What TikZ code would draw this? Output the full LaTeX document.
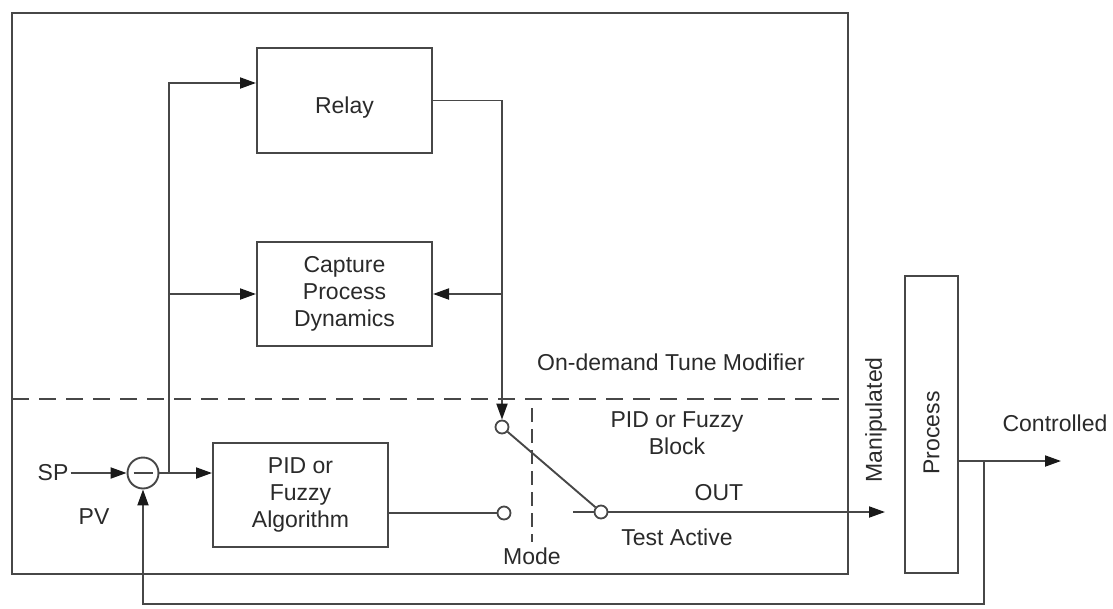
\documentclass[tikz,border=0pt]{standalone}
\usepackage{fontspec}
\setmainfont{Liberation Sans}
\usetikzlibrary{arrows.meta,calc}

\definecolor{lc}{HTML}{474747}
\definecolor{tc}{HTML}{2A2A2A}

\tikzset{
  txt/.style={text=tc, font=\fontsize{23}{27}\selectfont, align=center, inner sep=2pt},
  blk/.style={draw=lc, line width=2pt, inner sep=0pt, fill=white},
  ln/.style={draw=lc, line width=1.9pt},
  arr/.style={ln, -{Triangle[length=16pt,width=11pt,color=black!90]}},
  contact/.style={circle, draw=lc, line width=1.8pt, minimum size=13pt, inner sep=0pt, fill=white},
  frame/.style={draw=lc, line width=2.6pt},
  sep/.style={draw=lc, line width=1.8pt, dash pattern=on 17pt off 10pt},
  modeline/.style={draw=lc, line width=1.6pt, dash pattern=on 14pt off 7pt}
}

\begin{document}
\begin{tikzpicture}[x=1pt,y=-1pt]
\useasboundingbox (0,0) rectangle (1113,608);

% outer frame of the function block
\draw[frame] (12,13) rectangle (848,574);
% border between tune modifier and controller block
\draw[sep] (12,399) -- (848,399);
\node[txt] (odtm) at (671,362) {On-demand Tune Modifier};

% blocks
\node[blk, minimum width=175pt, minimum height=105pt] (relay) at (344.5,100.5) {};
\node[txt] (relaytxt) at ([yshift=-7pt]relay.center) {Relay};
\node[blk, minimum width=175pt, minimum height=104pt, txt] (cap) at (344.5,294) {Capture\\Process\\Dynamics};
\node[blk, minimum width=175pt, minimum height=104pt, txt] (pid) at (300.5,495) {PID or\\Fuzzy\\Algorithm};
\node[blk, minimum width=53pt, minimum height=297pt] (proc) at (931.5,424.5) {};
\node[txt, rotate=90] (proctxt) at ([yshift=-8.5pt]proc.center) {Process};

% summing junction
\node[circle, draw=lc, line width=1.9pt, minimum size=31pt, inner sep=0pt] (sum) at (143,473) {};
\draw[lc, line width=2.6pt] ($(sum.center)+(-9.5,0)$) -- ($(sum.center)+(9.5,0)$);

% mode switch contacts
\node[contact] (sw1) at (502,427) {};
\node[contact] (sw2) at (504,513) {};
\node[contact] (sw3) at (601,512) {};
\draw[modeline] (532,408) -- (532,542);

% labels
\node[txt] (sp) at (53,473) {SP};
\node[txt] (pv) at (94,517) {PV};
\node[txt] (blk) at (677,433.5) {PID or Fuzzy\\Block};
\node[txt] (out) at (719,493) {OUT};
\node[txt] (test) at (677,537) {Test Active};
\node[txt] (mode) at (532,556) {Mode};
\node[txt, rotate=90] (manip) at (876,420) {Manipulated};
\node[txt] (ctltxt) at (1055,423) {Controlled};

% helper points
\coordinate (br) at (169,473);
\coordinate (tap) at (502,294);
\coordinate (stub) at (573,512);
\coordinate (mv) at (885,512);
\coordinate (fb) at (984,461);
\coordinate (fbb) at (984,604);
\coordinate (ctl) at (1061,461);

% connectors
\draw[arr] (sp.east) -- (sum.west);
\draw[ln] (sum.east) -- (br);
\draw[arr] (br) -- (br -| pid.west);
\draw[arr] (br) |- ([yshift=17.5pt]relay.west);
\draw[arr] (br |- cap.west) -- (cap.west);
\draw[arr] (relay.east) -| (sw1.north);
\draw[arr] (tap) -- (cap.east);
\draw[ln] (pid.east |- sw2) -- (sw2.west);
\draw[ln] (sw1) -- (sw3);
\draw[ln] (stub) -- (sw3.west);
\draw[arr] (sw3.east) -- (mv);
\draw[arr] (proc.east |- fb) -- (ctl);
\draw[arr] (fb) -- (fbb) -| (sum.south);
\end{tikzpicture}
\end{document}
